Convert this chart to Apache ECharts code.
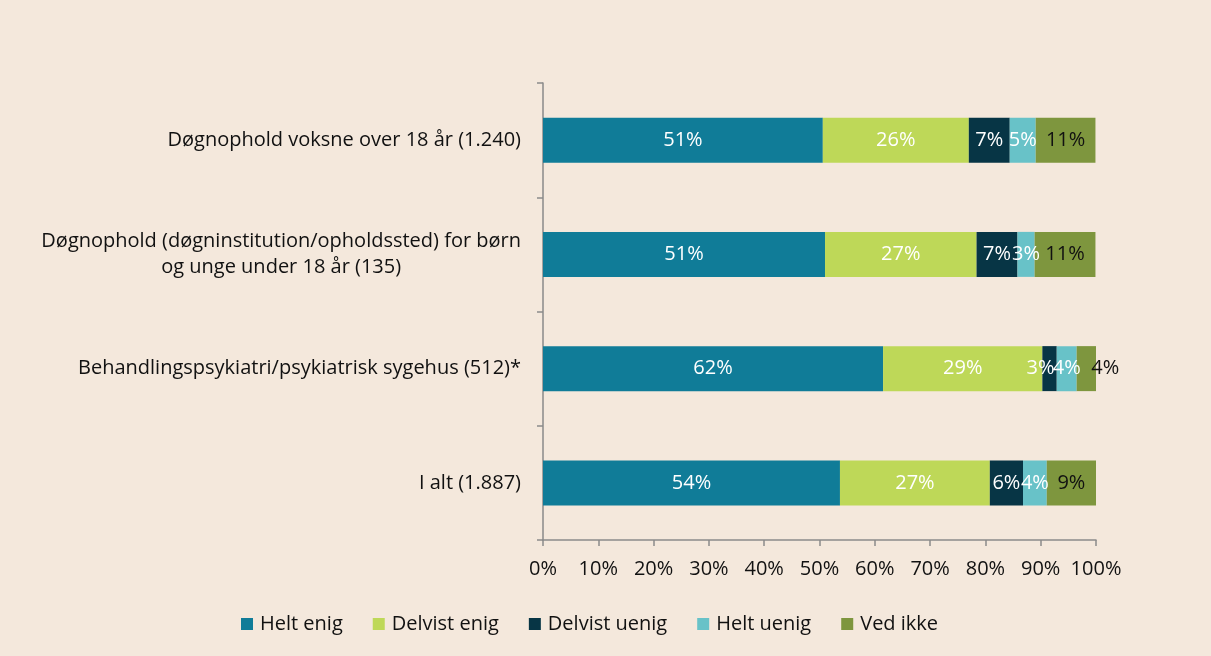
<!DOCTYPE html>
<html>
<head>
<meta charset="utf-8">
<script src="https://cdn.jsdelivr.net/npm/echarts@6/dist/echarts.min.js"></script>
<style>
html,body{margin:0;padding:0;background:#F4E8DC;}
#c{width:1211px;height:656px;}
</style>
</head>
<body>
<div id="c"></div>
<script>
const categories = [
  "Døgnophold voksne over 18 år (1.240)",
  "Døgnophold (døgninstitution/opholdssted) for børn\nog unge under 18 år (135)",
  "Behandlingspsykiatri/psykiatrisk sygehus (512)*",
  "I alt (1.887)"
];
const seriesNames = ["Helt enig", "Delvist enig", "Delvist uenig", "Helt uenig", "Ved ikke"];
const heltEnig    = [50.6, 51.0, 61.5, 53.7];
const delvistEnig = [26.4, 27.4, 28.8, 27.1];
const delvistUenig= [7.4, 7.4, 2.6, 6.0];
const heltUenig   = [4.7, 3.1, 3.6, 4.3];
const vedIkke     = [10.8, 11.0, 3.5, 8.9];
const xTicks = [0, 10, 20, 30, 40, 50, 60, 70, 80, 90, 100];

const values = [heltEnig, delvistEnig, delvistUenig, heltUenig, vedIkke];
const colors = ["#107C98", "#BED858", "#073545", "#68C2C8", "#7E963E"];
const labelColors = ["#ffffff", "#ffffff", "#ffffff", "#ffffff", "#111111"];
const font = "'Open Sans', 'Noto Sans', sans-serif";

const chart = echarts.init(document.getElementById('c'), null, {renderer: 'canvas'});
const series = seriesNames.map((name, si) => ({
  name: name,
  type: 'bar',
  stack: 'total',
  barWidth: 45,
  itemStyle: {color: colors[si]},
  label: {
    show: true,
    position: 'inside',
    color: labelColors[si],
    fontFamily: font,
    fontSize: 20,
    formatter: p => Math.round(p.value) + '%'
  },
  data: values[si].map((v, i) => {
    const d = {value: v};
    if (i === 2 && si === 2) d.label = {offset: [-9, 0]};
    if (i === 2 && si === 4) d.label = {offset: [19, 0]};
    return d;
  })
}));

chart.setOption({
  backgroundColor: '#F4E8DC',
  animation: false,
  textStyle: {fontFamily: font},
  legend: {
    data: seriesNames,
    top: 609,
    left: 236,
    itemWidth: 12,
    itemHeight: 12,
    itemGap: 30,
    icon: 'rect',
    textStyle: {fontSize: 20, color: '#111', fontFamily: font, padding: [0, 0, 0, 2]}
  },
  grid: {left: 543, right: 115, top: 83, bottom: 116, containLabel: false},
  xAxis: {
    type: 'value',
    min: xTicks[0],
    max: xTicks[xTicks.length - 1],
    interval: 10,
    axisLine: {show: true, lineStyle: {color: '#8a8a8a', width: 1.5}},
    axisTick: {show: true, length: 6, lineStyle: {color: '#8a8a8a', width: 1.5}},
    splitLine: {show: false},
    axisLabel: {formatter: '{value}%', fontSize: 20, color: '#111', margin: 19, fontFamily: font}
  },
  yAxis: {
    type: 'category',
    inverse: true,
    data: categories,
    axisLine: {show: true, lineStyle: {color: '#8a8a8a', width: 1.5}},
    axisTick: {show: true, length: 6, lineStyle: {color: '#8a8a8a', width: 1.5}},
    axisLabel: {
      margin: 22,
      align: 'right',
      formatter: v => v.split('\n').map(s => '{c|' + s + '}').join('\n'),
      rich: {c: {fontSize: 20, color: '#111', lineHeight: 26, align: 'center', fontFamily: font}}
    }
  },
  series: series
});
</script>
</body>
</html>
